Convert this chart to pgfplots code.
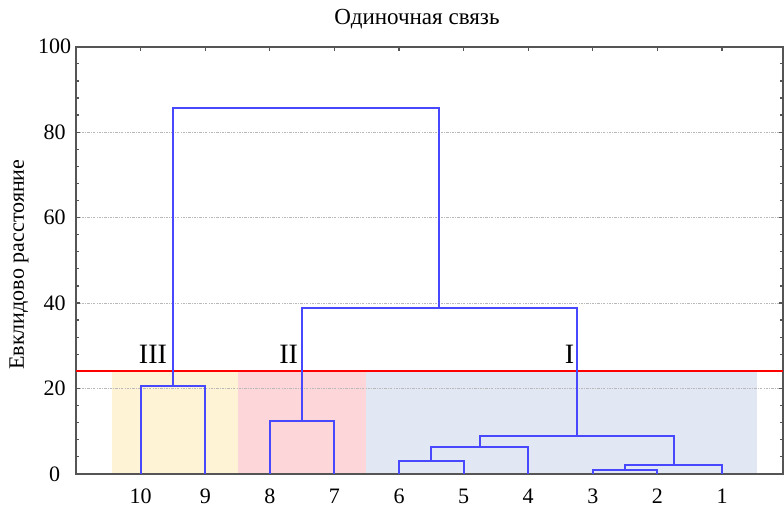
\documentclass[border=0pt]{standalone}
\usepackage{fontspec}
\setmainfont{Liberation Serif}
\usepackage{pgfplots}
\pgfplotsset{compat=1.18}

\definecolor{linkblue}{RGB}{72,72,255}
\definecolor{zoneIII}{RGB}{255,243,214}
\definecolor{zoneII}{RGB}{253,214,218}
\definecolor{zoneI}{RGB}{226,232,243}
\definecolor{axisgray}{RGB}{85,85,85}
\definecolor{gridgray}{RGB}{185,185,185}

\tikzset{link/.style={linkblue, line width=1pt, mark=none}}

\begin{document}
\begin{tikzpicture}
\begin{axis}[
  set layers,
  at={(0,0)}, anchor=south west,
  scale only axis,
  width=353.25pt, height=213.3pt,
  xmin=0, xmax=10.95,
  ymin=0, ymax=100,
  xtick={1,2,3,4,5,6,7,8,9,10},
  xticklabels={10,9,8,7,6,5,4,3,2,1},
  ytick={0,20,40,60,80,100},
  minor y tick num=4,
  tick align=inside,
  major tick length=2.2pt,
  minor tick length=1.6pt,
  tick style={axisgray, line width=0.6pt},
  axis line style={axisgray, line width=1pt},
  ymajorgrids,
  major grid style={gridgray, line width=0.5pt, dash pattern=on 1.2pt off 0.6pt on 0.4pt off 0.6pt},
  ticklabel style={font=\fontsize{11}{11}\selectfont},
  /pgf/number format/assume math mode=true,
  yticklabel style={anchor=center, xshift=-10.75pt},
  xticklabel style={anchor=center, yshift=-11.3pt},
  ylabel={Евклидово расстояние},
  ylabel style={font=\fontsize{11}{11}\selectfont, at={(axis description cs:-0.0807,0.49)}, anchor=center},
  every axis title shift=0pt,
  title={Одиночная связь},
  title style={font=\fontsize{11.5}{11.5}\selectfont, at={(axis description cs:0.482,1.065)}, anchor=center},
]
% cluster zones below the cut level
\addplot[fill=zoneIII, draw=none, on layer=axis background] coordinates {(0.55,24) (2.51,24)} \closedcycle;
\addplot[fill=zoneII, draw=none, on layer=axis background] coordinates {(2.51,24) (4.49,24)} \closedcycle;
\addplot[fill=zoneI, draw=none, on layer=axis background] coordinates {(4.49,24) (10.54,24)} \closedcycle;

% cut level
\addplot[red, line width=0.7pt, mark=none] coordinates {(0,24.05) (10.95,24.05)};

% dendrogram links (single linkage)
\addplot[link] coordinates {(1,0) (1,20.6) (2,20.6) (2,0)};
\addplot[link] coordinates {(3,0) (3,12.4) (4,12.4) (4,0)};
\addplot[link] coordinates {(5,0) (5,3.0) (6,3.0) (6,0)};
\addplot[link] coordinates {(5.5,3.0) (5.5,6.25) (7,6.25) (7,0)};
\addplot[link] coordinates {(8,0) (8,1.0) (9,1.0) (9,0)};
\addplot[link] coordinates {(8.5,1.0) (8.5,2.0) (10,2.0) (10,0)};
\addplot[link] coordinates {(6.25,6.25) (6.25,8.8) (9.25,8.8) (9.25,2.0)};
\addplot[link] coordinates {(3.5,12.4) (3.5,38.8) (7.75,38.8) (7.75,8.8)};
\addplot[link] coordinates {(1.5,20.6) (1.5,85.7) (5.625,85.7) (5.625,38.8)};

% cluster labels
\node[font=\fontsize{14}{14}\selectfont] at (axis cs:1.19,28) {III};
\node[font=\fontsize{14}{14}\selectfont] at (axis cs:3.29,28) {II};
\node[font=\fontsize{14}{14}\selectfont] at (axis cs:7.64,28) {I};
\end{axis}
\pgfresetboundingbox
\useasboundingbox (-38pt,-17.35pt) rectangle (353.55pt,236.65pt);
\end{tikzpicture}
\end{document}
